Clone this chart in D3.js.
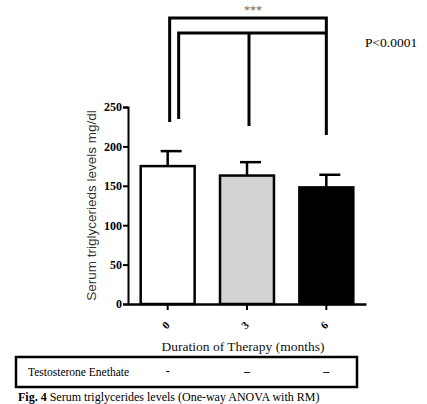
<!DOCTYPE html>
<html>
<head>
<meta charset="utf-8">
<script src="https://cdn.jsdelivr.net/npm/d3@7"></script>
<style>
  body { margin: 0; background: #fff; }
  svg { display: block; }
</style>
</head>
<body>
<script>
// months of therapy, mean and upper error (SEM) of serum triglycerides
var months = ["0", "3", "6"];
var means = [175, 163, 148];
var errTops = [194, 180, 164];
var fills = ["#ffffff", "#d3d3d3", "#000000"];
var yTicks = [0, 50, 100, 150, 200, 250];
var teMarks = ["-", "\u2013", "\u2013"];

var W = 427, H = 404;
var svg = d3.select("body").append("svg")
    .attr("width", W).attr("height", H);

var x = d3.scaleBand().domain(months).range([128, 366])
    .paddingInner(0.32).paddingOuter(0.16);
var y = d3.scaleLinear().domain([0, 250]).range([304, 107]);

var serif = "Liberation Serif, Times New Roman, serif";

// y axis
var yAxis = svg.append("g").attr("transform", "translate(128,0)")
    .call(d3.axisLeft(y).tickValues(yTicks).tickSize(5).tickPadding(1));
yAxis.select(".domain").attr("stroke-width", 2);
yAxis.selectAll(".tick line").attr("stroke-width", 2);
yAxis.selectAll("text").attr("font-family", serif).attr("font-weight", "bold")
    .attr("font-size", 12).attr("fill", "#000");

// bars
svg.selectAll("rect.bar").data(months).enter().append("rect")
    .attr("class", "bar")
    .attr("x", function(d) { return x(d); })
    .attr("y", function(d, i) { return y(means[i]); })
    .attr("width", x.bandwidth())
    .attr("height", function(d, i) { return y(0) - y(means[i]); })
    .attr("fill", function(d, i) { return fills[i]; })
    .attr("stroke", "#000").attr("stroke-width", 2.5);

// error bars (upper only)
months.forEach(function(d, i) {
  var cx = x(d) + x.bandwidth() / 2;
  svg.append("line").attr("x1", cx).attr("x2", cx)
    .attr("y1", y(means[i])).attr("y2", y(errTops[i]))
    .attr("stroke", "#000").attr("stroke-width", 2.5);
  svg.append("line").attr("x1", cx - 7).attr("x2", cx + 14)
    .attr("y1", y(errTops[i])).attr("y2", y(errTops[i]))
    .attr("stroke", "#000").attr("stroke-width", 2.5);
});

// x axis
var xAxis = svg.append("g").attr("transform", "translate(0,304)")
    .call(d3.axisBottom(x).tickSize(6).tickSizeOuter(0));
xAxis.select(".domain").attr("stroke-width", 2.5);
xAxis.selectAll(".tick line").attr("stroke-width", 2);
xAxis.selectAll("text")
    .attr("font-family", serif).attr("font-weight", "bold").attr("font-size", 11)
    .attr("fill", "#000")
    .attr("transform", "translate(-2,21) rotate(-45)")
    .attr("dy", "0.35em").attr("y", 0);

// axis titles
svg.append("text")
    .attr("transform", "translate(96," + y(125) + ") rotate(-90)")
    .attr("text-anchor", "middle")
    .attr("font-family", "Liberation Sans, Arial, sans-serif")
    .attr("font-size", 13.5).attr("fill", "#333")
    .text("Serum triglycerieds levels mg/dl");

svg.append("text")
    .attr("x", 243).attr("y", 351).attr("text-anchor", "middle")
    .attr("font-family", serif).attr("font-size", 13.5).attr("fill", "#111")
    .text("Duration of Therapy (months)");

// significance brackets
var bracket = function(pts) {
  svg.append("path").attr("d", d3.line()(pts))
    .attr("fill", "none").attr("stroke", "#000").attr("stroke-width", 3);
};
var xl = x("0") + x.bandwidth() / 2, xm = x("3") + x.bandwidth() / 2,
    xr = x("6") + x.bandwidth() / 2;
bracket([[xl + 2, 122], [xl + 2, 18], [xr, 18], [xr, 135]]);
bracket([[xl + 11, 119], [xl + 11, 33], [xr, 33]]);
bracket([[xm + 2, 33], [xm + 2, 126]]);

svg.append("text").attr("x", (xl + xr) / 2 + 6).attr("y", 14)
    .attr("text-anchor", "middle").attr("font-family", serif)
    .attr("font-size", 12).attr("fill", "#666").text("***");

svg.append("text").attr("x", 365).attr("y", 47)
    .attr("font-family", serif).attr("font-size", 13.5).attr("fill", "#000")
    .text("P<0.0001");

// treatment table
svg.append("rect").attr("x", 16).attr("y", 357).attr("width", 341).attr("height", 30)
    .attr("fill", "none").attr("stroke", "#000").attr("stroke-width", 2.5);
svg.append("text").attr("x", 28).attr("y", 376)
    .attr("font-family", serif).attr("font-size", 11.5).attr("fill", "#000")
    .text("Testosterone Enethate");
svg.selectAll("text.mark").data(months).enter().append("text")
    .attr("class", "mark")
    .attr("x", function(d) { return x(d) + x.bandwidth() / 2; })
    .attr("y", 375).attr("text-anchor", "middle")
    .attr("font-family", serif).attr("font-size", 12).attr("font-weight", "bold")
    .text(function(d, i) { return teMarks[i]; });

// caption
var cap = svg.append("text").attr("x", 18).attr("y", 401)
    .attr("font-family", serif).attr("font-size", 12).attr("fill", "#000");
cap.append("tspan").attr("font-weight", "bold").text("Fig. 4 ");
cap.append("tspan").text("Serum triglycerides levels (One-way ANOVA with RM)");
</script>
</body>
</html>
